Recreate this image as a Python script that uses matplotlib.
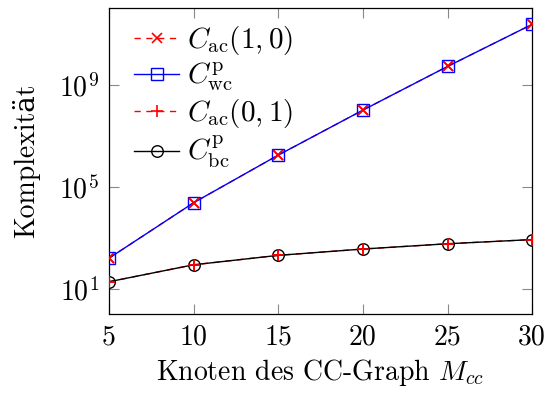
import matplotlib
matplotlib.use("Agg")
import matplotlib.pyplot as plt
from matplotlib.ticker import FixedLocator, NullLocator

plt.rcParams['font.family'] = ['cmr10', 'DejaVu Serif']
plt.rcParams['mathtext.fontset'] = 'cm'
plt.rcParams['axes.unicode_minus'] = False
plt.rcParams['axes.formatter.use_mathtext'] = True

# Data
nodes = [5, 10, 15, 20, 25, 30]
c_ac_10 = [166, 2.45e4, 1.78e6, 1.02e8, 5.2e9, 2.3e11]
c_wc = [166, 2.45e4, 1.78e6, 1.02e8, 5.2e9, 2.3e11]
c_ac_01 = [20, 92, 215, 380, 610, 890]
c_bc = [20, 92, 215, 380, 610, 890]
xticks = [5, 10, 15, 20, 25, 30]
yticks = [1e1, 1e5, 1e9]

fig = plt.figure(figsize=(5.46, 3.93), dpi=100)
ax = fig.add_axes([0.1996, 0.201, 0.775, 0.7786])

fs = 20
dash = (4.5, 4.0)

l1, = ax.plot(nodes, c_ac_10, color='red', ls='--', dashes=dash, lw=1.0,
              marker='x', ms=7.5, mew=1.2, label=r'$C_{\mathrm{ac}}(1,0)$', zorder=2)
l2, = ax.plot(nodes, c_wc, color='blue', ls='-', lw=1.0,
              marker='s', ms=8.3, mfc='none', mew=1.0, label=r'$C^{\mathrm{p}}_{\mathrm{wc}}$', zorder=3)
l3, = ax.plot(nodes, c_ac_01, color='red', ls='--', dashes=dash, lw=1.0,
              marker='+', ms=8.5, mew=1.2, label=r'$C_{\mathrm{ac}}(0,1)$', zorder=2)
l4, = ax.plot(nodes, c_bc, color='black', ls='-', lw=1.0,
              marker='o', ms=8.3, mfc='none', mew=1.0, label=r'$C^{\mathrm{p}}_{\mathrm{bc}}$', zorder=3)
# red markers on top
ax.plot(nodes, c_ac_10, ls='none', color='red', marker='x', ms=7.5, mew=1.2, zorder=4)
ax.plot(nodes, c_ac_01, ls='none', color='red', marker='+', ms=8.5, mew=1.2, zorder=4)

ax.set_yscale('log')
ax.set_xlim(5, 30)
ax.set_ylim(10**0.04, 10**12.0)
ax.yaxis.set_major_locator(FixedLocator(yticks))
ax.yaxis.set_minor_locator(NullLocator())
ax.set_xticks(xticks)
ax.set_xticklabels([str(v) for v in xticks])

ax.tick_params(direction='in', length=7, width=0.8, color='#888888',
               top=True, right=True, labelsize=fs, pad=7)
for s in ax.spines.values():
    s.set_linewidth(0.9)

ax.set_xlabel(r'Knoten des CC-Graph $M_{cc}$', fontsize=fs, labelpad=5)
ax.set_ylabel('Komplexität', fontsize=fs, labelpad=14)

leg = ax.legend(loc='upper left', frameon=False, fontsize=21, handlelength=1.55,
                handletextpad=0.25, labelspacing=0.13, borderaxespad=0.2,
                borderpad=0.3, bbox_to_anchor=(0.025, 0.995))

fig.savefig('out.png', dpi=100)
